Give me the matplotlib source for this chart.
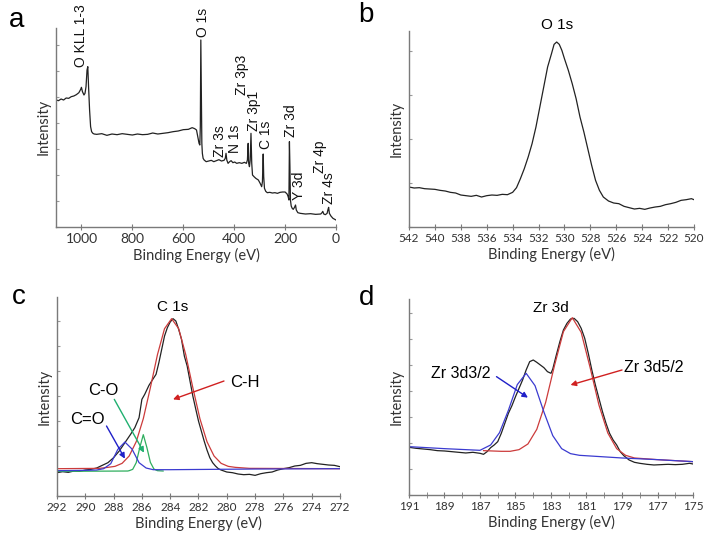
import matplotlib
matplotlib.use("Agg")
import matplotlib.pyplot as plt
from matplotlib.ticker import MultipleLocator

# ---- panel a: survey spectrum (binding energy eV, intensity a.u.)
surv_E = [1100, 1090, 1080, 1070, 1060, 1050, 1040, 1030, 1020, 1010, 1003, 1000, 996, 990, 986,
          982, 978, 975, 972, 968, 964, 960, 955, 950, 940, 920, 900, 880, 860, 840, 820, 800,
          780, 760, 740, 720, 700, 680, 660, 640, 620, 600, 580, 565, 555, 548, 542, 538, 535,
          533, 531, 529, 527, 525, 522, 518, 510, 500, 490, 480, 470, 460, 450, 440, 435, 432,
          429, 424, 418, 412, 405, 398, 390, 380, 370, 360, 352, 348, 345, 343, 340, 337, 334,
          331, 328, 322, 315, 305, 298, 292, 289, 286, 284, 281, 276, 270, 260, 250, 240, 230,
          220, 210, 200, 192, 188, 185, 183, 181, 179, 176, 172, 168, 163, 159, 156, 150, 140,
          120, 100, 80, 60, 55, 52, 48, 42, 35, 32, 29, 26, 20, 12, 5, 0]
surv_I = [380, 378, 383, 380, 386, 385, 390, 392, 396, 402, 412, 418, 405, 395, 400,
          420, 470, 480, 420, 350, 300, 285, 280, 278, 277, 279, 274, 278, 276, 279, 277, 275,
          278, 276, 277, 281, 278, 280, 282, 285, 287, 291, 292, 297, 294, 290, 265, 250, 245,
          300, 560, 420, 250, 220, 205, 200, 195, 197, 199, 195, 198, 201, 197, 199, 205, 220,
          200, 190, 195, 198, 192, 194, 190, 192, 190, 193, 190, 200, 250, 190, 180, 200, 280,
          190, 155, 150, 145, 140, 130, 120, 135, 218, 150, 115, 106, 102, 103, 101, 102, 100,
          103, 104, 104, 98, 90, 80, 255, 180, 80, 62, 55, 52, 58, 65, 50, 42, 40,
          38, 39, 37, 38, 42, 46, 38, 36, 40, 50, 58, 40, 32, 25, 22, 20]
surv_names = ["O KLL 1-3", "O 1s", "Zr 3s", "N 1s", "Zr 3p3", "Zr 3p1", "C 1s",
              "Zr 3d", "Y 3d", "Zr 4p", "Zr 4s"]
surv_name_E = [1002, 523, 455, 396, 370, 322, 275, 178, 147, 62, 29]
surv_name_I = [478, 570, 210, 222, 395, 288, 233, 270, 80, 160, 68]

# ---- panel b: O 1s
o1s_E = [542.0, 541.6, 541.2, 540.8, 540.4, 540.0, 539.6, 539.2, 538.8, 538.4, 538.0, 537.6,
         537.2, 536.8, 536.4, 536.0, 535.6, 535.2, 534.8, 534.4, 534.0, 533.7, 533.4, 533.1,
         532.8, 532.5, 532.2, 531.9, 531.6, 531.3, 531.0, 530.8, 530.6, 530.4, 530.2, 530.0,
         529.7, 529.4, 529.1, 528.8, 528.5, 528.2, 527.9, 527.6, 527.3, 527.0, 526.6, 526.2,
         525.8, 525.4, 525.0, 524.6, 524.2, 523.8, 523.4, 523.0, 522.6, 522.2, 521.8, 521.4,
         521.0, 520.6, 520.2, 520.0]
o1s_I = [120, 117, 118, 115, 114, 113, 110, 108, 104, 102, 96, 94,
         92, 95, 90, 94, 96, 95, 98, 97, 104, 118, 145, 175,
         210, 250, 300, 360, 420, 480, 520, 548, 555, 548, 530, 505,
         470, 430, 385, 330, 285, 235, 185, 140, 110, 90, 78, 72,
         70, 62, 58, 54, 56, 53, 57, 60, 62, 67, 70, 74,
         80, 82, 85, 82]

# ---- panel c: C 1s raw + fitted components
c1s_E = [292.0, 291.6, 291.2, 290.8, 290.4, 290.0, 289.6, 289.2, 288.8, 288.4, 288.0, 287.6,
         287.2, 286.8, 286.5, 286.2, 286.0, 285.8, 285.5, 285.2, 285.0, 284.8, 284.6, 284.4,
         284.2, 284.0, 283.8, 283.6, 283.4, 283.2, 283.0, 282.8, 282.6, 282.4, 282.2, 282.0,
         281.8, 281.6, 281.4, 281.2, 281.0, 280.8, 280.6, 280.4, 280.0, 279.6, 279.2, 278.8,
         278.4, 278.0, 277.6, 277.2, 276.8, 276.4, 276.0, 275.6, 275.2, 274.8, 274.4, 274.0,
         273.6, 273.2, 272.8, 272.4, 272.0]
c1s_I = [70, 73, 71, 75, 74, 78, 80, 84, 92, 100, 115, 135,
         160, 185, 205, 235, 290, 305, 332, 352, 365, 400, 440, 480,
         505, 522, 532, 525, 500, 470, 420, 390, 345, 300, 262, 225,
         195, 165, 138, 115, 100, 90, 82, 78, 72, 70, 66, 64,
         65, 62, 67, 70, 72, 78, 82, 85, 90, 92, 98, 100,
         97, 95, 93, 92, 88]
ch_E = [292, 289, 288.4, 287.9, 287.4, 286.9, 286.4, 285.9, 285.4, 284.9, 284.4, 283.9,
        283.4, 282.9, 282.4, 281.9, 281.4, 280.9, 280.4, 279.9, 279.4, 278.4, 272]
ch_I = [82, 83, 86, 89, 98, 120, 163, 232, 325, 424, 502, 532,
        502, 424, 325, 232, 163, 120, 98, 89, 86, 83, 82]
co_E = [292, 287.0, 286.9, 286.65, 286.4, 286.15, 285.9, 285.65, 285.4, 285.15, 284.9, 284.5]
co_I = [74, 75, 76, 80, 100, 145, 184, 146, 101, 81, 76, 75]
cdo_E = [292, 290, 289.2, 288.7, 288.2, 287.7, 287.2, 286.7, 286.2, 285.7, 285.2, 284, 278, 272]
cdo_I = [76, 77, 78, 82, 97, 140, 162, 141, 100, 84, 79, 79, 81, 82]

# ---- panel d: Zr 3d raw + fitted components
zr_E = [191.0, 190.6, 190.2, 189.8, 189.4, 189.0, 188.6, 188.2, 187.8, 187.4, 187.0, 186.8,
        186.6, 186.4, 186.2, 186.0, 185.8, 185.6, 185.4, 185.2, 185.0, 184.8, 184.6, 184.4,
        184.2, 184.0, 183.8, 183.6, 183.4, 183.2, 183.0, 182.9, 182.7, 182.5, 182.3, 182.1,
        181.9, 181.7, 181.5, 181.3, 181.1, 180.9, 180.7, 180.5, 180.3, 180.1, 179.9, 179.7,
        179.5, 179.3, 179.1, 178.9, 178.6, 178.3, 178.0, 177.6, 177.2, 176.8, 176.4, 176.0,
        175.6, 175.2, 175.0]
zr_I = [143, 140, 138, 136, 133, 132, 130, 128, 126, 128, 125, 122,
        130, 142, 150, 160, 185, 215, 245, 268, 295, 320, 345, 375,
        400, 405, 398, 390, 382, 370, 365, 378, 420, 460, 495, 515,
        528, 530, 520, 500, 470, 425, 375, 330, 290, 250, 215, 185,
        165, 150, 130, 118, 105, 98, 95, 92, 90, 91, 92, 91,
        92, 95, 93]
zr52_E = [186.8, 185.8, 185.3, 184.8, 184.3, 183.8, 183.3, 182.8, 182.3, 181.8, 181.3, 180.8,
          180.3, 179.8, 179.3, 178.8, 178.3, 177.0, 175.0]
zr52_I = [133, 131, 131, 136, 153, 197, 278, 389, 490, 532, 488, 383,
          270, 186, 139, 119, 111, 106, 100]
zr32_E = [191, 189, 187, 186.4, 185.9, 185.4, 184.9, 184.4, 183.9, 183.4, 182.9, 182.4,
          181.9, 181.4, 179, 177, 175]
zr32_I = [145, 139, 134, 150, 187, 254, 331, 365, 328, 249, 178, 139,
          124, 119, 111, 106, 100]

RED = "#cc3b3b"
BLUE = "#3b3bd0"
GREEN = "#2fae5e"
TXT = "Liberation Sans"
TICKF = "Lato"

plt.rcParams["font.family"] = TICKF

fig = plt.figure(figsize=(7.14, 5.49), dpi=100)
ax_a = fig.add_axes([0.0784, 0.5871, 0.3922, 0.3619])
ax_b = fig.add_axes([0.5728, 0.5865, 0.3992, 0.3570])
ax_c = fig.add_axes([0.0798, 0.0965, 0.3964, 0.3625])
ax_d = fig.add_axes([0.5728, 0.0984, 0.3978, 0.3570])


def style(ax, xlim, ytop, major, minor, ystep, tsize):
    ax.set_xlim(*xlim)
    ax.set_ylim(0, ytop)
    for s in ["top", "right"]:
        ax.spines[s].set_visible(False)
    for s in ["left", "bottom"]:
        ax.spines[s].set_color("#7a7a7a")
        ax.spines[s].set_linewidth(1.0)
    ax.xaxis.set_major_locator(MultipleLocator(major))
    if minor:
        ax.xaxis.set_minor_locator(MultipleLocator(minor))
    ax.yaxis.set_major_locator(MultipleLocator(ystep))
    ax.tick_params(axis="x", which="both", direction="inout", length=5, color="#7a7a7a",
                   labelsize=tsize, labelcolor="#333333", pad=2)
    ax.tick_params(axis="y", which="both", direction="in", length=2.5, color="#9a9a9a",
                   labelleft=False)
    ax.set_xlabel("Binding Energy (eV)", fontsize=10.5, color="#333333", labelpad=2)
    ax.set_ylabel("Intensity", fontsize=10.5, color="#333333", labelpad=4)


def arrow(ax, start, end, color):
    ax.annotate("", xy=end, xytext=start,
                arrowprops=dict(arrowstyle="-|>", color=color, lw=1, mutation_scale=8,
                                shrinkA=0, shrinkB=0))


# a
ax_a.plot(surv_E, surv_I, color="#222222", lw=0.9)
style(ax_a, (1100, 0), 596, 200, None, 78, 10)
for name, e, i in zip(surv_names, surv_name_E, surv_name_I):
    ax_a.text(e, i, name, rotation=90, ha="center", va="bottom", fontsize=10,
              family=TXT, color="#111111")

# b
ax_b.plot(o1s_E, o1s_I, color="#222222", lw=0.9)
style(ax_b, (542, 520), 588, 2, None, 132, 8.5)
ax_b.text(530.6, 605, "O 1s", ha="center", va="center", fontsize=11, family=TXT)

# c
ax_c.plot(c1s_E, c1s_I, color="#222222", lw=0.9)
ax_c.plot(ch_E, ch_I, color=RED, lw=0.9)
ax_c.plot(co_E, co_I, color=GREEN, lw=0.9)
ax_c.plot(cdo_E, cdo_I, color=BLUE, lw=0.9)
style(ax_c, (292, 272), 597, 2, None, 75, 8.5)
ax_c.text(283.86, 567, "C 1s", ha="center", va="center", fontsize=11, family=TXT)
ax_c.text(278.7, 342, "C-H", ha="center", va="center", fontsize=12, family=TXT)
ax_c.text(288.75, 317, "C-O", ha="center", va="center", fontsize=12, family=TXT)
ax_c.text(289.88, 230, "C=O", ha="center", va="center", fontsize=12, family=TXT)
arrow(ax_c, (280.2, 345), (283.8, 290), "#d02020")
arrow(ax_c, (287.95, 290), (285.85, 130), "#20b070")
arrow(ax_c, (288.5, 210), (287.2, 112), "#2020c8")

# d
ax_d.plot(zr_E, zr_I, color="#222222", lw=0.9)
ax_d.plot(zr52_E, zr52_I, color=RED, lw=0.9)
ax_d.plot(zr32_E, zr32_I, color=BLUE, lw=0.9)
style(ax_d, (191, 175), 588, 2, 1, 78, 8.5)
ax_d.xaxis.set_major_locator(MultipleLocator(2, offset=1))
ax_d.text(182.99, 560, "Zr 3d", ha="center", va="center", fontsize=11, family=TXT)
ax_d.text(188.09, 365, "Zr 3d3/2", ha="center", va="center", fontsize=11.5, family=TXT)
ax_d.text(177.21, 382, "Zr 3d5/2", ha="center", va="center", fontsize=11.5, family=TXT)
arrow(ax_d, (186.07, 355), (184.3, 292), "#2020c8")
arrow(ax_d, (179.0, 375), (181.9, 330), "#d02020")

# panel letters
for lab, x, y in [("a", 0.013, 0.951), ("b", 0.502, 0.960), ("c", 0.017, 0.446),
                  ("d", 0.503, 0.444)]:
    fig.text(x, y, lab, fontsize=20, family=TXT, va="baseline", ha="left")

fig.savefig("out.png", dpi=100)
